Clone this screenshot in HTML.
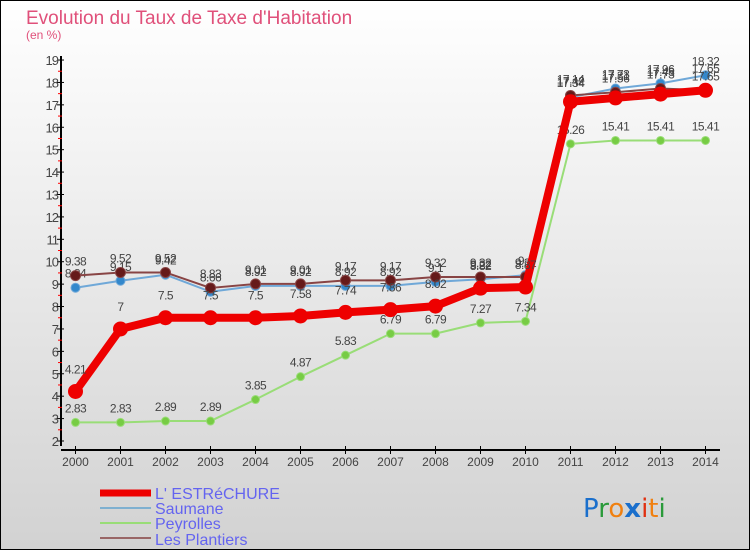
<!DOCTYPE html>
<html><head><meta charset="utf-8">
<style>
html,body{margin:0;padding:0;}
body{width:750px;height:550px;overflow:hidden;font-family:"Liberation Sans",sans-serif;}
svg{display:block;}
</style></head>
<body>
<svg id="chart" width="750" height="550" xmlns="http://www.w3.org/2000/svg">
<defs>
<linearGradient id="bg" x1="0" y1="0" x2="0" y2="1">
<stop offset="0" stop-color="#ffffff"/><stop offset="1" stop-color="#d2d2d2"/>
</linearGradient>
</defs>
<rect x="0.5" y="0.5" width="749" height="549" fill="url(#bg)" stroke="#000"/>
<text x="26" y="24" font-size="19" fill="#e0507a">Evolution du Taux de Taxe d'Habitation</text>
<text x="26" y="39" font-size="12" fill="#e0507a">(en %)</text>
<g id="axes"></g>
<g id="series"></g>
<g id="legend">
<line x1="100" y1="493" x2="151" y2="493" stroke="#ee0000" stroke-width="7"/>
<text x="155" y="499" font-size="16" fill="#6464f0">L' ESTRéCHURE</text>
<line x1="100" y1="508" x2="151" y2="508" stroke="#7fb0d0" stroke-width="2"/>
<text x="155" y="514" font-size="16" fill="#6464f0">Saumane</text>
<line x1="100" y1="523" x2="151" y2="523" stroke="#99dd77" stroke-width="2"/>
<text x="155" y="529" font-size="16" fill="#6464f0">Peyrolles</text>
<line x1="100" y1="538" x2="151" y2="538" stroke="#996666" stroke-width="2"/>
<text x="155" y="545" font-size="16" fill="#6464f0">Les Plantiers</text>
</g>
<g font-size="26" font-family="'DejaVu Sans',sans-serif">
<text x="583" y="517"><tspan fill="#1a6fcc">P</tspan><tspan fill="#2a9a3a">r</tspan><tspan fill="#f08010">o</tspan><tspan fill="#1a6fcc" font-weight="bold">x</tspan><tspan fill="#e03010">i</tspan><tspan fill="#f08010">t</tspan><tspan fill="#2a9a3a">i</tspan></text>
</g>
</svg>
<script>
const years = ["2000","2001","2002","2003","2004","2005","2006","2007","2008","2009","2010","2011","2012","2013","2014"];
const yTicks = [2,3,4,5,6,7,8,9,10,11,12,13,14,15,16,17,18,19];
const estrechure = [4.21,7,7.5,7.5,7.5,7.58,7.74,7.86,8.02,8.82,8.87,17.14,17.31,17.48,17.65];
const saumane = [8.84,9.15,9.42,8.66,8.92,8.92,8.92,8.92,9.1,9.22,9.4,17.34,17.73,17.96,18.32];
const peyrolles = [2.83,2.83,2.89,2.89,3.85,4.87,5.83,6.79,6.79,7.27,7.34,15.26,15.41,15.41,15.41];
const plantiers = [9.38,9.52,9.52,8.83,9.01,9.01,9.17,9.17,9.32,9.32,9.32,17.42,17.56,17.73,17.65];

const NS="http://www.w3.org/2000/svg";
const xS = i => 75.5 + i*45;
const yS = v => 441 - (v-2)*22.41;
function mk(tag, attrs, parent){const e=document.createElementNS(NS,tag);for(const k in attrs)e.setAttribute(k,attrs[k]);parent.appendChild(e);return e;}
const axes=document.getElementById('axes');
const yAxis=mk('line',{x1:61,y1:56,x2:61,y2:446,stroke:'#000','stroke-width':2},axes);


const xAxis=mk('line',{x1:61,y1:450,x2:720,y2:450,stroke:'#000','stroke-width':2},axes);


yTicks.forEach(v=>{
  const y=yS(v);
  mk('line',{x1:57,y1:y,x2:64,y2:y,stroke:'#000','stroke-width':1},axes);
  if(v<19) mk('line',{x1:58,y1:yS(v+0.5),x2:62,y2:yS(v+0.5),stroke:'#f00','stroke-width':1},axes);
  const t=mk('text',{x:58,y:y+5,'text-anchor':'end','font-size':13,fill:'#444','letter-spacing':'-1'},axes);
  t.textContent=v;
  
  
});
years.forEach((yr,i)=>{
  const x=xS(i);
  mk('line',{x1:x,y1:446,x2:x,y2:454,stroke:'#000','stroke-width':1},axes);
  const t=mk('text',{x:x,y:466,'text-anchor':'middle','font-size':12,fill:'#444'},axes);
  t.textContent=yr;
  
  
});
const sg=document.getElementById('series');
function draw(vals,name,color,width,r,fillc,labelDy){
  const g=mk('g',{},sg);
  
  
  const pts=vals.map((v,i)=>xS(i)+','+yS(v)).join(' ');
  mk('polyline',{points:pts,fill:'none',stroke:color,'stroke-width':width,'stroke-linejoin':'round'},g);
  vals.forEach((v,i)=>{
    const c=mk('circle',{cx:xS(i),cy:yS(v),r:r,fill:fillc,stroke:color,'stroke-width':1},g);
    
    
    const t=mk('text',{x:xS(i),y:yS(v)+labelDy,'text-anchor':'middle','font-size':12,fill:'#444','letter-spacing':'-0.5'},g);
    t.textContent=String(v);
    
    
  });
}
draw(peyrolles,'peyrolles','#99dd77',2,4,'#77cc44',-10);
draw(saumane,'saumane','#6fa8d8',2,4.5,'#3388cc',-10);
draw(plantiers,'les-plantiers','#884444',2,5,'#661a1a',-10);
draw(estrechure,'estrechure','#ee0000',8,7,'#ee0000',-18);
</script>
</body></html>
